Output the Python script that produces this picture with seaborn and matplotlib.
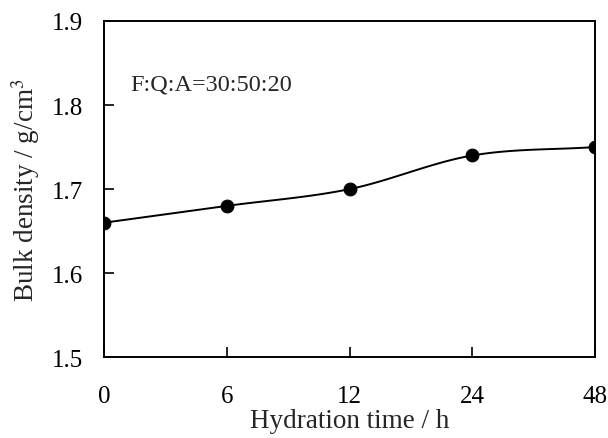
import numpy as np
import matplotlib
matplotlib.use("Agg")
import matplotlib.pyplot as plt
import seaborn as sns

# data
hours = ["0", "6", "12", "24", "48"]
density = [1.66, 1.68, 1.70, 1.74, 1.75]

sns.set_style("ticks")
plt.rcParams['font.family'] = ['Liberation Serif', 'DejaVu Serif']
plt.rcParams['mathtext.fontset'] = 'stix'

# smooth line like the spreadsheet smoothing (catmull-rom through the points)
def smooth(xs, ys, n=30):
    xs = np.asarray(xs, float)
    ys = np.asarray(ys, float)
    px = np.concatenate([[2 * xs[0] - xs[1]], xs, [2 * xs[-1] - xs[-2]]])
    py = np.concatenate([[2 * ys[0] - ys[1]], ys, [2 * ys[-1] - ys[-2]]])
    outx, outy = [], []
    for i in range(1, len(px) - 2):
        t = np.linspace(0, 1, n)
        for p, out in ((px, outx), (py, outy)):
            p0, p1, p2, p3 = p[i - 1], p[i], p[i + 1], p[i + 2]
            out.extend(0.5 * ((2 * p1) + (-p0 + p2) * t
                              + (2 * p0 - 5 * p1 + 4 * p2 - p3) * t ** 2
                              + (-p0 + 3 * p1 - 3 * p2 + p3) * t ** 3))
    return np.array(outx), np.array(outy)

pos = np.arange(len(hours))
sx, sy = smooth(pos, density)

fig = plt.figure(figsize=(6.08, 4.39), dpi=100)
ax = fig.add_axes([0.171, 0.184, 0.808, 0.766])

sns.lineplot(x=sx, y=sy, ax=ax, color='black', linewidth=1.4, sort=False)
sns.scatterplot(x=pos, y=density, ax=ax, color='black', s=85, edgecolor='black', zorder=3)

ax.set_xlim(0, len(hours) - 1)
ax.set_ylim(1.5, 1.9)
ax.set_xticks(pos)
ax.set_xticklabels(hours)
ax.set_yticks([1.5, 1.6, 1.7, 1.8, 1.9])
ax.tick_params(direction='in', length=7, width=1.2, labelsize=18, colors='black')
ax.tick_params(axis='x', pad=20)
ax.tick_params(axis='y', pad=15)
for s in ax.spines.values():
    s.set_linewidth(1.4)
    s.set_color('black')

ax.set_xlabel('Hydration time / h', fontsize=19.5, labelpad=1)
ax.set_ylabel('Bulk density / g/cm$^3$', fontsize=19.5, labelpad=7)
ax.text(0.053, 0.795, 'F:Q:A=30:50:20', transform=ax.transAxes, fontsize=17.5)

fig.savefig('out.png', dpi=100)
